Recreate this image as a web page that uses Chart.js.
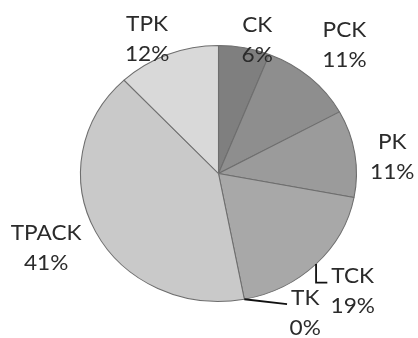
<!DOCTYPE html>
<html>
<head>
<meta charset="utf-8">
<script src="https://cdn.jsdelivr.net/npm/chart.js@4.4.1/dist/chart.umd.min.js"></script>
<style>
  html, body { margin: 0; padding: 0; background: #fff; }
  #wrap { width: 418px; height: 338px; }
</style>
</head>
<body>
<div id="wrap"><canvas id="pie" width="418" height="338"></canvas></div>
<script>
// data, clockwise from 12 o'clock
const categories = ['CK', 'PCK', 'PK', 'TCK', 'TK', 'TPACK', 'TPK'];
const percents = [6, 11, 11, 19, 0, 41, 12];

const sliceColors = ['#7f7f7f', '#8e8e8e', '#9b9b9b', '#a8a8a8', '#b8b8b8', '#c9c9c9', '#d9d9d9'];
// label nudges away from the plain radial spot (px)
const labelNudge = [[9, 11], [21, -18], [17, 7], [22, 14], [57, -5], [-31, 8], [-13, 3]];
const withLeader = ['TCK', 'TK'];
const stretchX = 1.078; // the original pie is a little wider than tall

const stretchPlugin = {
    id: 'stretch',
    beforeDatasetsDraw(chart) {
        const arc = chart.getDatasetMeta(0).data[0];
        const ctx = chart.ctx;
        ctx.save();
        ctx.translate(arc.x, arc.y);
        ctx.scale(stretchX, 1);
        ctx.translate(-arc.x, -arc.y);
    },
    afterDatasetsDraw(chart) {
        chart.ctx.restore();
    }
};

const labelPlugin = {
    id: 'sliceLabels',
    afterDraw(chart) {
        const ctx = chart.ctx;
        const arcs = chart.getDatasetMeta(0).data;
        ctx.save();
        ctx.font = '21px Lato';
        ctx.fillStyle = '#2b2b2b';
        ctx.textAlign = 'center';
        ctx.textBaseline = 'middle';
        arcs.forEach((arc, i) => {
            const p = arc.getProps(['x', 'y', 'startAngle', 'endAngle', 'outerRadius'], true);
            const mid = (p.startAngle + p.endAngle) / 2;
            const r = p.outerRadius;
            const lx = p.x + Math.cos(mid) * r * 1.15 * stretchX + labelNudge[i][0];
            const ly = p.y + Math.sin(mid) * r * 1.15 + labelNudge[i][1];
            const lines = [categories[i], percents[i] + '%'];
            lines.forEach((t, j) => {
                ctx.save();
                ctx.translate(lx, ly + (j - 0.5) * 30);
                ctx.scale(stretchX, 1);
                ctx.fillText(t, 0, 0);
                ctx.restore();
            });
            if (withLeader.includes(categories[i])) {
                const ex = p.x + Math.cos(mid) * r * stretchX;
                const ey = p.y + Math.sin(mid) * r;
                const endY = ly - 9;
                const endX = lx - ctx.measureText(categories[i]).width * stretchX / 2 - 4;
                ctx.beginPath();
                ctx.strokeStyle = '#111';
                ctx.lineWidth = 1.8;
                ctx.moveTo(ex, ey);
                if (endY - ey > 8) ctx.lineTo(ex, endY);
                ctx.lineTo(endX, endY);
                ctx.stroke();
            }
        });
        ctx.restore();
    }
};

new Chart(document.getElementById('pie').getContext('2d'), {
    type: 'pie',
    data: {
        labels: categories,
        datasets: [{
            data: percents,
            backgroundColor: sliceColors,
            borderColor: '#6e6e6e',
            borderWidth: 1
        }]
    },
    options: {
        responsive: false,
        animation: false,
        layout: { padding: { top: 45, bottom: 36, left: 60, right: 41 } },
        plugins: {
            legend: { display: false },
            tooltip: { enabled: false }
        }
    },
    plugins: [stretchPlugin, labelPlugin]
});
</script>
</body>
</html>
